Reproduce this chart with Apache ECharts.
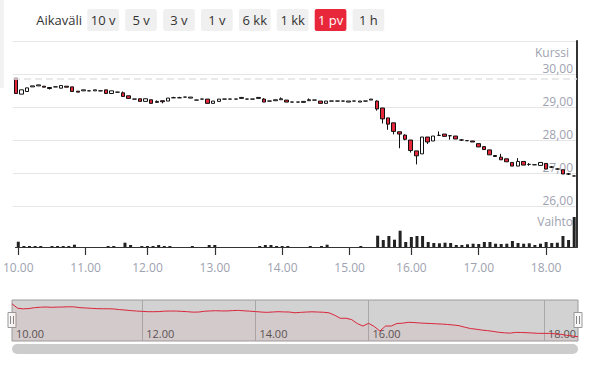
<!DOCTYPE html>
<html>
<head>
<meta charset="utf-8">
<script src="https://cdn.jsdelivr.net/npm/echarts@6/dist/echarts.min.js"></script>
<style>
html,body{margin:0;padding:0;background:#fff;}
#c{width:602px;height:371px;}
</style>
</head>
<body>
<div id="c"></div>
<script>
// ---- data ----
const times = [
'10.00','10.05','10.10','10.15','10.20','10.25','10.30','10.35','10.40','10.45','10.50','10.55',
'11.00','11.05','11.10','11.15','11.20','11.25','11.30','11.40','11.45','11.50','11.55',
'12.00','12.05','12.10','12.15','12.20','12.25','12.30','12.35','12.40','12.45','12.50','12.55',
'13.00','13.05','13.10','13.15','13.20','13.25','13.30','13.35','13.40','13.45','13.50','13.55',
'14.00','14.05','14.10','14.15','14.20','14.25','14.30','14.35','14.40','14.45','14.50','14.55',
'15.00','15.05','15.10','15.15','15.20','15.25','15.30','15.35','15.45','15.50','15.55',
'16.00','16.05','16.10','16.15','16.20','16.25','16.30','16.35','16.40','16.45','16.50','16.55',
'17.00','17.05','17.10','17.15','17.20','17.25','17.30','17.35','17.40','17.45','17.50','17.55',
'18.00','18.05','18.10','18.15','18.20','18.25'];
const opens = [
29.87,29.39,29.47,29.61,29.64,29.63,29.59,29.61,29.57,29.63,29.61,29.48,
29.49,29.49,29.49,29.49,29.52,29.41,29.45,29.43,29.34,29.24,29.25,
29.17,29.22,29.14,29.19,29.18,29.28,29.28,29.30,29.27,29.21,29.24,29.24,
29.11,29.17,29.24,29.24,29.24,29.26,29.24,29.24,29.26,29.24,29.18,29.19,
29.22,29.21,29.15,29.15,29.14,29.19,29.21,29.18,29.11,29.18,29.18,29.18,
29.15,29.18,29.15,29.18,29.21,29.18,28.97,28.67,28.52,28.25,28.15,
28.00,27.67,27.58,28.09,27.97,28.14,28.18,28.13,28.12,28.00,27.98,27.97,
27.89,27.80,27.70,27.53,27.48,27.43,27.32,27.21,27.35,27.26,27.25,27.23,
27.29,27.18,27.12,27.10,26.97,26.91];
const closes = [
29.41,29.52,29.58,29.64,29.67,29.60,29.56,29.61,29.65,29.60,29.47,29.45,
29.52,29.49,29.52,29.49,29.41,29.49,29.45,29.32,29.26,29.24,29.17,
29.25,29.11,29.17,29.16,29.27,29.28,29.28,29.30,29.30,29.21,29.24,29.11,
29.18,29.24,29.24,29.24,29.24,29.29,29.24,29.24,29.29,29.15,29.18,29.22,
29.25,29.15,29.15,29.15,29.17,29.22,29.21,29.11,29.18,29.18,29.18,29.18,
29.18,29.18,29.18,29.18,29.24,28.94,28.64,28.48,28.26,28.18,28.02,
27.68,27.52,28.09,27.94,28.12,28.14,28.11,28.13,28.03,28.00,27.98,27.94,
27.79,27.71,27.55,27.50,27.40,27.34,27.21,27.35,27.24,27.26,27.25,27.32,
27.12,27.18,27.12,26.97,26.97,26.91];
const lows = [
29.41,29.39,29.47,29.61,29.64,29.60,29.53,29.61,29.57,29.60,29.47,29.45,
29.49,29.49,29.49,29.49,29.41,29.41,29.45,29.32,29.26,29.24,29.17,
29.17,29.11,29.14,29.11,29.18,29.28,29.28,29.30,29.27,29.21,29.24,29.11,
29.11,29.17,29.24,29.24,29.24,29.26,29.24,29.24,29.26,29.15,29.18,29.19,
29.22,29.15,29.15,29.15,29.14,29.19,29.21,29.11,29.11,29.18,29.18,29.18,
29.15,29.18,29.15,29.18,29.21,28.89,28.50,28.31,28.17,27.75,27.99,
27.62,27.26,27.58,27.88,27.97,28.14,28.11,28.01,28.03,27.97,27.98,27.94,
27.79,27.71,27.55,27.50,27.40,27.34,27.21,27.21,27.24,27.22,27.25,27.23,
27.12,27.15,27.10,26.97,26.94,26.91];
const highs = [
29.87,29.52,29.58,29.64,29.67,29.63,29.59,29.61,29.65,29.63,29.61,29.48,
29.52,29.49,29.52,29.49,29.52,29.49,29.45,29.47,29.34,29.24,29.25,
29.25,29.22,29.20,29.19,29.27,29.31,29.31,29.30,29.30,29.21,29.24,29.24,
29.18,29.24,29.24,29.24,29.24,29.29,29.24,29.24,29.29,29.27,29.18,29.22,
29.29,29.21,29.15,29.15,29.17,29.26,29.21,29.18,29.18,29.18,29.18,29.18,
29.18,29.18,29.18,29.18,29.24,29.20,28.97,28.67,28.52,28.25,28.17,
28.00,27.67,28.09,28.09,28.12,28.26,28.18,28.13,28.12,28.03,27.98,27.97,
27.89,27.80,27.70,27.53,27.58,27.43,27.32,27.45,27.35,27.30,27.25,27.32,
27.29,27.21,27.14,27.10,27.00,26.91];
const volumes = [
5.3,1,1,1,1,0,1,1,1,1, 2.3,0,0,0,0,0,1,1,0,4.3,
2,0,1,1,1,2,1,1,0,0, 0,1,0,0,2,2,0,0,0,0,
0,0,0,1,2,2,1,1,1,0, 0,0,1,0,1,2.3,0,0,0,0,
0,1,0,0,11.3,7,11,7.3,16.3,5, 10,11,11,5,4,3.7,4.3,4,2,2,
2.7,3.3,3,5,5,3.3,3,3.3,6,4, 3.3,3.7,2,3.3,5,4,4.3,11,7,30];
const prevClose = 29.87;

// navigator (overview) line, read along the navigator strip
const navPrices = [
29.90,29.50,29.44,29.47,29.55,29.59,29.61,29.58,29.60,29.61,
29.63,29.62,29.55,29.52,29.49,29.46,29.45,29.45,29.43,29.37,
29.33,29.28,29.24,
29.21,29.18,29.18,29.19,29.23,29.24,29.24,29.21,29.18,29.14,
29.15,29.22,29.25,29.27,29.25,29.25,29.28,29.30,29.26,29.23,
29.19,29.15,29.12,29.15,29.18,29.16,29.15,29.08,29.12,29.15,
29.17,29.15,29.13,29.08,28.86,28.58,28.58,28.46,28.10,27.87,
28.12,27.83,27.41,27.87,27.87,28.10,28.13,28.21,28.19,28.15,
28.12,28.10,28.07,28.05,28.01,27.96,27.90,27.76,27.64,27.58,
27.50,27.45,27.38,27.30,27.25,27.22,27.29,27.28,27.26,27.23,27.20,
27.20,27.20,27.16,27.11,27.02,26.96,26.89];
const navHourLabels = ['10.00','12.00','14.00','16.00','18.00'];
const navHourIndex = [0,23,43,63,94];

const priceMin = 26, priceMax = 31, priceStep = 1;
const volMax = 41;
const rangeButtons = ['10 v','5 v','3 v','1 v','6 kk','1 kk','1 pv','1 h'];
const activeButton = '1 pv';

// ---- build ----
const navCats = navPrices.map((p, i) => {
  const k = navHourIndex.indexOf(i);
  return k >= 0 ? navHourLabels[k] : '';
});
const candles = times.map((t, i) => [opens[i], closes[i], lows[i], highs[i]]);
const onHour = (i, v) => /\.00$/.test(v);
const FONT = '"Open Sans", "Segoe UI", sans-serif';
const labelColor = '#9ea2b0';

const graphics = [
  {type:'rect', shape:{x:0,y:0,width:4,height:88}, style:{fill:'#f2f2f2'}, silent:true},
  {type:'text', x:82, y:19.5, style:{text:'Aikaväli', align:'right', verticalAlign:'middle', font:'13px ' + FONT, fill:'#333'}}
];
rangeButtons.forEach((b, i) => {
  const x = 87.3 + i * 37.9;
  const active = b === activeButton;
  graphics.push({type:'rect', shape:{x:x, y:9, width:31.7, height:22, r:2}, style:{fill: active ? '#e8283a' : '#f0f0f0'}});
  graphics.push({type:'text', x:x + 15.85, y:20, style:{text:b, align:'center', verticalAlign:'middle', font:'13px ' + FONT, fill: active ? '#fff' : '#333'}});
});
// navigator handles + scrollbar
[12, 578].forEach(hx => {
  graphics.push({type:'rect', shape:{x:hx-4, y:312.5, width:8, height:15}, style:{fill:'#f7f7f7', stroke:'#999', lineWidth:1}});
  graphics.push({type:'line', shape:{x1:hx-1.5, y1:316, x2:hx-1.5, y2:324}, style:{stroke:'#888', lineWidth:1}});
  graphics.push({type:'line', shape:{x1:hx+1.5, y1:316, x2:hx+1.5, y2:324}, style:{stroke:'#888', lineWidth:1}});
});
graphics.push({type:'rect', shape:{x:12, y:344, width:566, height:10, r:5}, style:{fill:'#cccccc'}});

const chart = echarts.init(document.getElementById('c'), null, {renderer:'svg'});
chart.setOption({
  animation:false,
  textStyle:{fontFamily:FONT},
  grid:[
    {left:13, right:25, top:41, height:165},
    {left:13, right:25, top:206, height:41},
    {left:12, right:24, top:300, height:41, show:true, backgroundColor:'#d2d2d2', borderColor:'#9c9c9c', borderWidth:1}
  ],
  xAxis:[
    {type:'category', gridIndex:0, data:times, boundaryGap:true,
     axisLine:{show:false}, axisTick:{show:false}, axisLabel:{show:false}, splitLine:{show:false}},
    {type:'category', gridIndex:1, data:times, boundaryGap:true,
     axisLine:{show:true, lineStyle:{color:'#333', width:1}},
     axisTick:{show:true, alignWithLabel:true, interval:onHour, length:8, lineStyle:{color:'#333', width:1.2}},
     axisLabel:{interval:onHour, color:labelColor, fontSize:12, margin:14, fontFamily:FONT},
     splitLine:{show:false}},
    {type:'category', gridIndex:2, data:navCats, boundaryGap:false,
     axisLine:{show:false}, axisTick:{show:false},
     axisLabel:{inside:true, interval:(i, v) => v !== '', align:'left', padding:[0,0,0,4], color:'#555', fontSize:11, margin:2, fontFamily:FONT},
     splitLine:{show:true, interval:(i, v) => v !== '' && i > 0, lineStyle:{color:'#a8a8a8', width:1}}}
  ],
  yAxis:[
    {type:'value', gridIndex:0, position:'right', min:priceMin, max:priceMax, interval:priceStep,
     axisLine:{show:true, lineStyle:{color:'#333', width:2}}, axisTick:{show:false},
     splitLine:{show:true, lineStyle:{color:'#e6e6e6', width:1}},
     axisLabel:{inside:true, margin:4, color:labelColor, fontSize:12, lineHeight:12, verticalAlign:'bottom', fontFamily:FONT,
       formatter:v => v === priceMax ? '' : v.toFixed(2).replace('.', ',')},
     name:'Kurssi', nameLocation:'end', nameGap:-11,
     nameTextStyle:{align:'right', verticalAlign:'middle', color:labelColor, fontSize:12, lineHeight:12, padding:[0,8,0,0], fontFamily:FONT}},
    {type:'value', gridIndex:1, position:'right', min:0, max:volMax,
     axisLine:{show:true, lineStyle:{color:'#333', width:2}}, axisTick:{show:false},
     axisLabel:{show:false}, splitLine:{show:false},
     name:'Vaihto', nameLocation:'end', nameGap:-15,
     nameTextStyle:{align:'right', verticalAlign:'middle', color:labelColor, fontSize:12, lineHeight:12, padding:[0,4,0,0], fontFamily:FONT}},
    {type:'value', gridIndex:2, min:26.5, max:30.25, show:false}
  ],
  series:[
    {type:'candlestick', xAxisIndex:0, yAxisIndex:0, data:candles, barWidth:4,
     itemStyle:{color:'#ffffff', color0:'#e5283b', borderColor:'#111', borderColor0:'#111', borderColorDoji:'#111', borderWidth:1},
     markLine:{silent:true, symbol:'none', label:{show:false},
       lineStyle:{type:[7,4], color:'#e2e2e2', width:1.5}, data:[{yAxis:prevClose}]}},
    {type:'bar', xAxisIndex:1, yAxisIndex:1, data:volumes, barWidth:3, itemStyle:{color:'#222'}},
    {type:'line', xAxisIndex:2, yAxisIndex:2, data:navPrices, symbol:'none', silent:true,
     lineStyle:{color:'#d9263a', width:1}, areaStyle:{color:'rgba(230,40,60,0.07)'}}
  ],
  graphic:graphics
});
</script>
</body>
</html>
